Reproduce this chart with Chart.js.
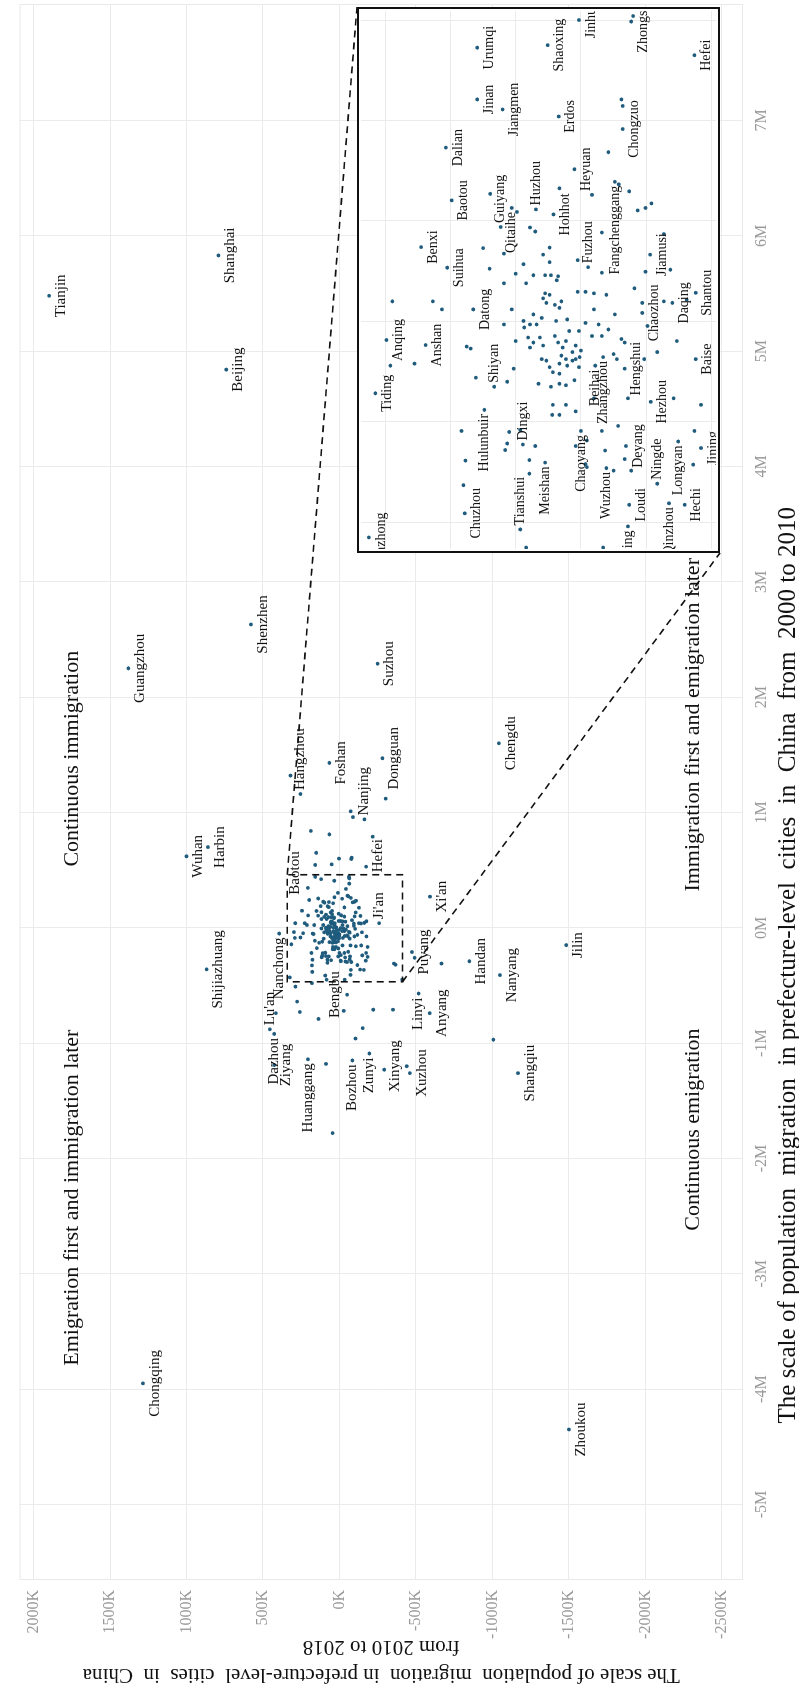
<!DOCTYPE html>
<html>
<head>
<meta charset="utf-8">
<title>Population migration of prefecture-level cities in China</title>
<script src="https://cdn.jsdelivr.net/npm/chart.js@4.4.1/dist/chart.umd.min.js"></script>
<style>
  html, body { margin:0; padding:0; background:#fff; width:799px; height:1689px; overflow:hidden; }
  /* the landscape figure is turned a quarter turn to stand upright on the page */
  #stage { position:absolute; left:0; top:1689px; width:1689px; height:799px;
           transform-origin:0 0; transform:rotate(-90deg); background:#fff; }
  #mainChart { position:absolute; left:0; top:0; }
  #insetChart { position:absolute; }
</style>
</head>
<body>
<div id="stage">
  <canvas id="mainChart" width="1689" height="799"></canvas>
  <canvas id="insetChart" width="546" height="363"></canvas>
</div>
<script>
const SERIF = '"Liberation Serif", "Times New Roman", Times, serif';

// ---- labelled cities: migration 2000–2010 (million) and 2010–2018 (thousand)
const cityNames = [
  "Shanghai","Beijing","Tianjin","Guangzhou","Shenzhen","Suzhou","Wuhan","Harbin",
  "Hangzhou","Foshan","Nanjing","Dongguan","Chengdu","Puyang","Xi'an","Handan",
  "Nanyang","Jilin","Shijiazhuang","Nanchong","Lu'an","Dazhou","Ziyang","Huanggang",
  "Bengbu","Bozhou","Zunyi","Xinyang","Xuzhou","Linyi","Anyang","Shangqiu",
  "Zhoukou","Chongqing","Ji'an","Hefei","Baotou","Benxi","Suihua","Dalian",
  "Guiyang","Qitaihe","Huzhou","Hohhot","Jinan","Urumqi","Jiangmen","Shaoxing",
  "Jinhua","Erdos","Heyuan","Fuzhou","Fangchenggang","Chongzuo","Zhongshan","Jiamusi",
  "Tiding","Anqing","Anshan","Datong","Shiyan","Hulunbuir","Chuzhou","Dingxi",
  "Tianshui","Meishan","Chaoyang","Beihai","Zhangzhou","Wuzhou","Deyang","Loudi",
  "Hengshui","Hezhou","Ningde","Longyan","Chaozhou","Daqing","Shantou","Baise",
  "Jining","Hechi","Qinzhou","Qujing","Bazhong"
];
const cityShift0010 = [
  5.83, 4.84, 5.48, 2.25, 2.63, 2.29, 0.62, 0.70,
  1.16, 1.43, 0.94, 1.47, 1.60, -0.21, 0.27, -0.29,
  -0.41, -0.15, -0.36, -0.05, -0.88, -0.92, -1.19, -1.14,
  -0.58, -1.15, -1.09, -1.20, -1.26, -0.57, -0.74, -1.26,
  -4.35, -3.95, 0.04, 0.53, 0.241, 0.148, 0.107, 0.346,
  0.188, 0.226, 0.223, 0.213, 0.442, 0.545, 0.422, 0.550,
  0.600, 0.408, 0.303, 0.108, 0.278, 0.383, 0.597, 0.133,
  -0.143, -0.037, -0.047, 0.024, -0.130, -0.176, -0.382, -0.245,
  -0.414, -0.281, -0.218, -0.088, -0.071, -0.292, -0.248, -0.365,
  -0.094, -0.160, -0.323, -0.239, 0.017, 0.037, 0.057, -0.075,
  -0.252, -0.365, -0.362, -0.408, -0.430
];
const cityShift1018 = [
  791, 740, 1898, 1380, 579, -249, 1000, 860,
  255, 66, -163, -281, -1042, -474, -592, -849,
  -1049, -1482, 869, 394, 455, 427, 427, 206,
  -50, -84, -195, -440, -460, -517, -590, -1167,
  -1500, 1285, -259, -174, 198, 245, 205, 207,
  123, 106, 69, 42, 159, 159, 120, 51,
  3, 34, 10, -11, -52, -64, -77, -106,
  315, 298, 238, 165, 133, 148, 178, 89,
  93, 55, 0, -22, -34, -39, -69, -74,
  -67, -107, -117, -149, -94, -140, -176, -176,
  -184, -159, -135, -72, 325
];

// ---- remaining prefecture-level cities (unlabelled)
const otherShift0010 = [
  0.146,0.105,0.254,0.218,0.187,0.179,0.133,0.147,0.118,0.092,0.090,0.114,0.122,0.177,0.097,0.273,
  0.259,0.221,0.235,0.442,0.429,0.608,0.099,0.103,-0.084,0.040,0.040,0.024,-0.050,-0.054,-0.112,-0.326,
  -0.277,-0.256,-0.243,-0.220,-0.216,-0.276,-0.303,-0.248,-0.186,-0.130,-0.124,-0.127,-0.104,-0.117,-0.284,-0.290,
  -0.237,-0.218,-0.153,
  -0.006,0.024,-0.039,0.001,-0.012,-0.032,-0.006,0.014,-0.006,0.007,0.046,0.056,0.037,0.053,0.092,0.082,
  0.033,0.001,-0.029,-0.042,0.027,0.040,-0.052,-0.039,0.004,-0.019,-0.061,-0.075,0.059,-0.071,-0.091,-0.058,
  -0.003,0.059,0.024,0.056,-0.029,0.053,-0.016,-0.065,-0.075,0.014,-0.035,-0.042,0.066,0.037,0.040,0.076,
  0.076,0.092,-0.048,-0.078,-0.091,-0.101,-0.084,-0.068,-0.075,-0.088,-0.078,-0.075,-0.042,-0.052,-0.032,-0.048,
  -0.019,-0.029,-0.006,-0.094,-0.120,-0.124,-0.166,-0.166,-0.186,-0.179,-0.248,-0.153,-0.218,-0.257,-0.208,-0.153,
  -0.274,-0.297,-0.297,-0.075,-0.009,-0.061,-0.039,0.043,-0.285,-0.166,-0.218,-0.088,0.095,0.135,0.265,0.252,
  0.337,0.226,0.174,
  1.32,1.01,0.96,1.12,0.81,0.84,0.79,-0.26,-0.31,-0.32,-0.45,0.65,-0.51,-0.48,-0.45,-0.45,
  -0.31,-0.97,-0.74,-0.64,-0.73,-0.79,-1.18,-0.72,-1.78,-0.96,-0.87,-0.71,-1.23,-0.71
];
const otherShift1018 = [
  150,140,139,98,78,70,58,48,48,55,35,88,5,-32,-32,-58,
  -74,-87,-108,-62,-64,-80,-99,-137,255,289,227,213,175,169,161,180,
  177,116,113,110,93,79,79,70,44,46,33,23,33,10,-7,-9,
  -9,-174,-142,
  118,106,100,88,87,81,78,73,68,60,58,55,53,48,46,37,
  40,38,40,35,33,30,28,23,21,18,13,8,5,2,3,0,
  -7,-7,-20,-20,-32,-39,-42,-50,-55,-52,-62,-67,-82,-94,-127,118,
  84,73,58,53,48,43,33,30,23,21,13,60,73,78,63,8,
  3,-17,-27,103,113,65,43,23,33,8,8,-20,-32,-37,-57,-72,
  -67,-50,-77,-97,-102,-117,-147,-162,-172,-184,183,292,100,118,33,-17,
  -42,-99,-127,
  320,-73,-88,-302,66,187,-217,-491,-667,-367,-410,152,288,180,84,-34,
  -356,-1006,416,277,259,137,88,-28,45,-105,-152,-221,-292,-350
];

// ---- axes
const xTicks = [-5, -4, -3, -2, -1, 0, 1, 2, 3, 4, 5, 6, 7];
const yTicks = [-2500, -2000, -1500, -1000, -500, 0, 500, 1000, 1500, 2000];
const insetXTicks = [-0.4, -0.2, 0, 0.2, 0.4, 0.6];
const insetYTicks = [-200, -100, 0, 100, 200, 300];
const mainRange = { xMin: -5.655, xMax: 8.01, yMin: -2638, yMax: 2091 };
const insetRange = { xMin: -0.453, xMax: 0.618, yMin: -207, yMax: 337 };
const zoomBox = { xMin: -0.468, xMax: 0.46, yMin: -412, yMax: 341 };

// ---- annotation text
const xTitle = "The scale of population  migration  in prefecture-level  cities  in  China  from  2000 to 2010";
const yTitle = ["The scale of population  migration  in prefecture-level  cities  in  China", "from 2010 to 2018"];
const quadrantNotes = [
  { text: "Continuous immigration", x: 1.466, y: 1744 },
  { text: "Emigration first and immigration later", x: -2.34, y: 1744 },
  { text: "Continuous emigration", x: -1.75, y: -2310 },
  { text: "Immigration first and emigration later", x: 1.76, y: -2310 }
];

// label side: b = below, a = above, r = right of point, l = left of point
const mainLabelSide = {
  "Shanghai":"b","Beijing":"b","Tianjin":"b","Guangzhou":"b","Shenzhen":"b","Suzhou":"b","Wuhan":"b","Harbin":"b",
  "Hangzhou":"r","Foshan":"b","Nanjing":"r","Dongguan":"b","Chengdu":"b","Baotou":"n","Hefei":"n","Ji'an":"r",
  "Puyang":"b","Xi'an":"b","Handan":"b","Nanyang":"b","Jilin":"b","Shijiazhuang":"b","Nanchong":"l","Lu'an":"r",
  "Dazhou":"l","Ziyang":"b","Huanggang":"l","Bengbu":"a","Bozhou":"l","Zunyi":"l","Xinyang":"a","Xuzhou":"b",
  "Linyi":"l","Anyang":"b","Shangqiu":"b","Zhoukou":"b","Chongqing":"b"
};
// centre offsets (px) for labels nudged off their points
const mainLabelNudge = { "Baotou": [27, -14], "Hefei": [11, 12] };
const insetLabelSide = {
  "Benxi":"b","Suihua":"b","Baotou":"b","Dalian":"b","Guiyang":"r","Qitaihe":"l","Huzhou":"r","Hohhot":"b",
  "Jinan":"b","Urumqi":"b","Jiangmen":"b","Shaoxing":"b","Jinhua":"b","Erdos":"b","Heyuan":"b","Fuzhou":"r",
  "Fangchenggang":"l","Chongzuo":"b","Zhongshan":"b","Hefei":"b","Jiamusi":"b","Tiding":"b","Anqing":"b","Anshan":"b",
  "Datong":"b","Shiyan":"r","Hulunbuir":"l","Chuzhou":"b","Dingxi":"r","Tianshui":"r","Meishan":"l","Chaoyang":"l",
  "Beihai":"l","Zhangzhou":"l","Wuzhou":"l","Deyang":"b","Loudi":"b","Hengshui":"b","Hezhou":"b","Ningde":"r",
  "Longyan":"l","Chaozhou":"b","Daqing":"b","Shantou":"b","Baise":"b","Jining":"b","Hechi":"b","Qinzhou":"l",
  "Qujing":"l","Bazhong":"b"
};

const pointColor = "#1f5b7d";
const insetBox = { left: 1136, top: 357, width: 546, height: 363 };

const cityPoints = cityNames.map((n, i) => ({ x: cityShift0010[i], y: cityShift1018[i] }))
  .concat(otherShift0010.map((v, i) => ({ x: v, y: otherShift1018[i] })));

function drawCityLabels(chart, sides, nudge, px, gap) {
  const ctx = chart.ctx, xs = chart.scales.x, ys = chart.scales.y;
  ctx.save();
  ctx.font = px + "px " + SERIF;
  ctx.fillStyle = "#111";
  ctx.textBaseline = "middle";
  cityNames.forEach((name, i) => {
    const side = sides[name];
    if (!side) return;
    const cx = xs.getPixelForValue(cityShift0010[i]);
    const cy = ys.getPixelForValue(cityShift1018[i]);
    let tx = cx, ty = cy, align = "center";
    if (side === "b") ty = cy + gap;
    else if (side === "a") ty = cy - gap;
    else if (side === "r") { tx = cx + 4; align = "left"; }
    else if (side === "l") { tx = cx - 4; align = "right"; }
    else if (side === "n" && nudge[name]) { tx = cx + nudge[name][0]; ty = cy + nudge[name][1]; }
    ctx.textAlign = align;
    ctx.fillText(name, tx, ty);
  });
  ctx.restore();
}

const mainDecor = {
  id: "mainDecor",
  beforeDatasetsDraw(chart) {
    const { ctx, chartArea: a } = chart;
    ctx.save();
    ctx.strokeStyle = "#e9e9e9";
    ctx.lineWidth = 1;
    ctx.strokeRect(a.left + 0.5, a.top + 0.5, a.right - a.left - 1, a.bottom - a.top - 1);
    ctx.restore();
  },
  afterDatasetsDraw(chart) {
    const { ctx } = chart;
    const xs = chart.scales.x, ys = chart.scales.y;
    drawCityLabels(chart, mainLabelSide, mainLabelNudge, 15, 12);

    // quadrant notes
    ctx.save();
    ctx.font = "22px " + SERIF;
    ctx.fillStyle = "#111";
    ctx.textAlign = "center";
    ctx.textBaseline = "middle";
    quadrantNotes.forEach(q => ctx.fillText(q.text, xs.getPixelForValue(q.x), ys.getPixelForValue(q.y)));
    ctx.restore();

    // dashed zoom window and its leader lines to the inset
    const bx0 = xs.getPixelForValue(zoomBox.xMin), bx1 = xs.getPixelForValue(zoomBox.xMax);
    const by0 = ys.getPixelForValue(zoomBox.yMax), by1 = ys.getPixelForValue(zoomBox.yMin);
    ctx.save();
    ctx.strokeStyle = "#111";
    ctx.lineWidth = 1.6;
    ctx.setLineDash([7, 5]);
    ctx.strokeRect(bx0, by0, bx1 - bx0, by1 - by0);
    ctx.beginPath();
    ctx.moveTo(bx1, by0);
    ctx.lineTo(insetBox.left + insetBox.width, insetBox.top);
    ctx.moveTo(bx0, by1);
    ctx.lineTo(insetBox.left, insetBox.top + insetBox.height);
    ctx.stroke();
    ctx.restore();

    // axis titles
    ctx.save();
    ctx.fillStyle = "#111";
    ctx.textBaseline = "middle";
    const a = chart.chartArea;
    ctx.font = "25px " + SERIF;
    ctx.textAlign = "right";
    ctx.fillText(xTitle, insetBox.left + 46, 788);
    ctx.textAlign = "center";
    ctx.font = "21px " + SERIF;
    ctx.translate(0, (a.top + a.bottom) / 2);
    ctx.rotate(-Math.PI / 2);
    ctx.fillText(yTitle[0], 0, 14);
    ctx.fillText(yTitle[1], 0, 42);
    ctx.restore();
  }
};

const tickFont = { family: SERIF, size: 16 };
const gridStyle = { color: "#ebebeb", lineWidth: 1, drawTicks: false };

new Chart(document.getElementById("mainChart"), {
  type: "scatter",
  data: { datasets: [{ data: cityPoints, backgroundColor: pointColor, borderWidth: 0, pointRadius: 1.9, clip: 0 }] },
  options: {
    responsive: false, animation: false, devicePixelRatio: 1,
    layout: { padding: { top: 8, right: 4, left: 0, bottom: 0 } },
    plugins: { legend: { display: false }, tooltip: { enabled: false } },
    events: [],
    scales: {
      x: {
        type: "linear", min: mainRange.xMin, max: mainRange.xMax,
        afterBuildTicks: s => { s.ticks = xTicks.map(v => ({ value: v })); },
        afterFit: s => { s.height = 56; },
        ticks: { callback: v => v + "M", font: tickFont, color: "#9a9a9a", padding: 9, maxRotation: 0, autoSkip: false },
        grid: gridStyle, border: { display: false }
      },
      y: {
        type: "linear", min: mainRange.yMin, max: mainRange.yMax,
        afterBuildTicks: s => { s.ticks = yTicks.map(v => ({ value: v })); },
        afterFit: s => { s.width = 109; },
        ticks: { callback: v => v + "K", font: tickFont, color: "#9a9a9a", padding: 10, autoSkip: false },
        grid: gridStyle, border: { display: false }
      }
    }
  },
  plugins: [mainDecor]
});

// ---- enlarged view of the dense centre
const insetCanvas = document.getElementById("insetChart");
insetCanvas.style.left = insetBox.left + "px";
insetCanvas.style.top = insetBox.top + "px";

const insetDecor = {
  id: "insetDecor",
  beforeDraw(chart) {
    const { ctx, width, height } = chart;
    ctx.save();
    ctx.fillStyle = "#fff";
    ctx.fillRect(0, 0, width, height);
    ctx.restore();
  },
  afterDatasetsDraw(chart) {
    const { ctx, chartArea: a } = chart;
    ctx.save();
    ctx.beginPath();
    ctx.rect(a.left, a.top, a.right - a.left, a.bottom - a.top);
    ctx.clip();
    drawCityLabels(chart, insetLabelSide, {}, 14, 12);
    ctx.restore();
    ctx.save();
    ctx.strokeStyle = "#111";
    ctx.lineWidth = 2;
    ctx.strokeRect(1, 1, chart.width - 2, chart.height - 2);
    ctx.restore();
  }
};

new Chart(insetCanvas, {
  type: "scatter",
  data: { datasets: [{ data: cityPoints, backgroundColor: pointColor, borderWidth: 0, pointRadius: 1.9, clip: 0 }] },
  options: {
    responsive: false, animation: false, devicePixelRatio: 1,
    layout: { padding: 0 },
    plugins: { legend: { display: false }, tooltip: { enabled: false } },
    events: [],
    scales: {
      x: {
        type: "linear", min: insetRange.xMin, max: insetRange.xMax,
        afterBuildTicks: s => { s.ticks = insetXTicks.map(v => ({ value: v })); },
        afterFit: s => { s.height = 0; },
        ticks: { display: false }, grid: gridStyle, border: { display: false }
      },
      y: {
        type: "linear", min: insetRange.yMin, max: insetRange.yMax,
        afterBuildTicks: s => { s.ticks = insetYTicks.map(v => ({ value: v })); },
        afterFit: s => { s.width = 0; },
        ticks: { display: false }, grid: gridStyle, border: { display: false }
      }
    }
  },
  plugins: [insetDecor]
});
</script>
</body>
</html>
